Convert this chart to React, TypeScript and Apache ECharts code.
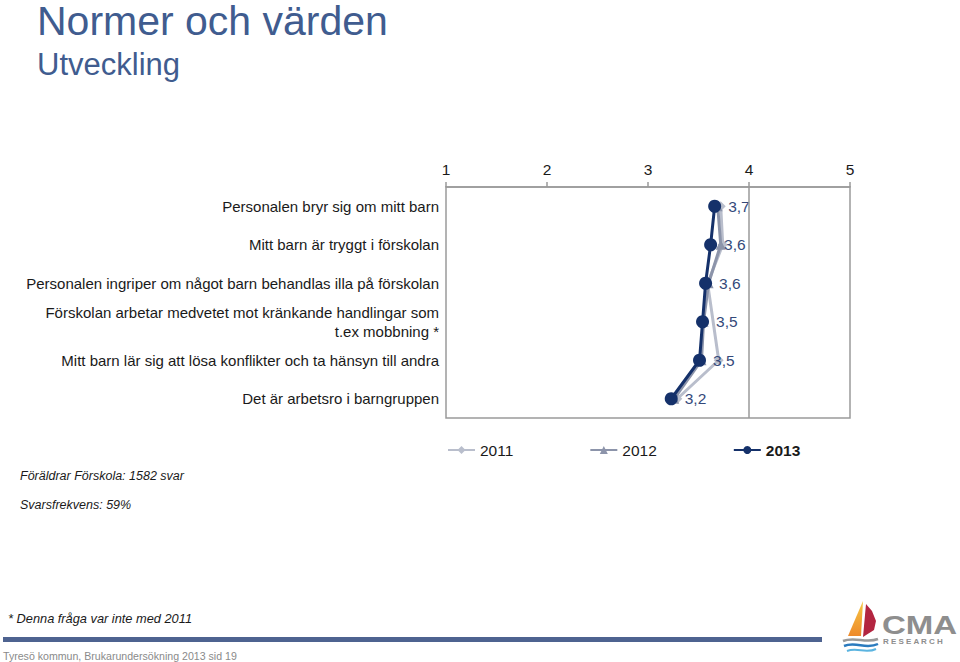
import React, { useEffect, useRef } from "react";
import * as echarts from "echarts";

const categories = [
  "Personalen bryr sig om mitt barn",
  "Mitt barn är tryggt i förskolan",
  "Personalen ingriper om något barn behandlas illa på förskolan",
  "Förskolan arbetar medvetet mot kränkande handlingar som\nt.ex mobbning *",
  "Mitt barn lär sig att lösa konflikter och ta hänsyn till andra",
  "Det är arbetsro i barngruppen",
];
const values2011: (number | null)[] = [3.72, 3.74, 3.59, null, 3.7, 3.29];
const values2012: (number | null)[] = [3.69, 3.72, 3.6, 3.55, 3.53, 3.26];
const values2013: (number | null)[] = [3.66, 3.62, 3.57, 3.54, 3.51, 3.23];
const seriesNames = ["2011", "2012", "2013"];
const xTicks = [1, 2, 3, 4, 5];

const FONT = "Liberation Sans, Arial, sans-serif";
const TITLE_COLOR = "#405C8F";

function toData(vals: (number | null)[]) {
  return categories
    .map((c, i) => (vals[i] == null ? null : [vals[i], c]))
    .filter((d) => d !== null);
}

export default function App() {
  const ref = useRef<HTMLDivElement>(null);
  useEffect(() => {
    if (!ref.current) return;
    const chart = echarts.init(ref.current, undefined, { renderer: "svg" });
    const option: any = {
      animation: false,
      textStyle: { fontFamily: FONT },
      grid: {
        left: 446,
        right: 110,
        top: 187,
        bottom: 244,
        show: true,
        borderColor: "#9a9a9a",
        borderWidth: 1.5,
        containLabel: false,
      },
      xAxis: {
        type: "value",
        position: "top",
        min: xTicks[0],
        max: xTicks[xTicks.length - 1],
        interval: 1,
        axisLine: { show: true, lineStyle: { color: "#9a9a9a", width: 1.5 } },
        axisTick: { show: true, length: 5, lineStyle: { color: "#9a9a9a", width: 1.5 } },
        splitLine: { show: false },
        axisLabel: { fontSize: 15.5, color: "#1a1a1a", margin: 10, fontFamily: FONT },
      },
      yAxis: {
        type: "category",
        inverse: true,
        data: categories,
        axisLine: { show: false },
        axisTick: { show: false },
        axisLabel: {
          fontSize: 15,
          color: "#1a1a1a",
          margin: 7,
          lineHeight: 19,
          fontFamily: FONT,
        },
      },
      legend: {
        left: 447,
        top: 442,
        padding: 0,
        itemWidth: 27,
        itemHeight: 10,
        itemGap: 76,
        textStyle: { fontSize: 15.5, color: "#1a1a1a", fontFamily: FONT },
        data: [
          { name: seriesNames[0] },
          { name: seriesNames[1] },
          { name: seriesNames[2], textStyle: { fontWeight: "bold", fontSize: 15.5 } },
        ],
      },
      series: [
        {
          name: seriesNames[0],
          type: "line",
          data: toData(values2011),
          symbol: "diamond",
          symbolSize: 10,
          lineStyle: { color: "#B9BECC", width: 3 },
          itemStyle: { color: "#B9BECC" },
          z: 2,
        },
        {
          name: seriesNames[1],
          type: "line",
          data: toData(values2012),
          symbol: "triangle",
          symbolSize: 10,
          lineStyle: { color: "#8C94AA", width: 3 },
          itemStyle: { color: "#8C94AA" },
          z: 3,
        },
        {
          name: seriesNames[2],
          type: "line",
          data: toData(values2013),
          symbol: "circle",
          symbolSize: 13,
          lineStyle: { color: "#15316A", width: 3 },
          itemStyle: { color: "#15316A" },
          z: 4,
          label: {
            show: true,
            position: "right",
            distance: 7,
            fontSize: 15.5,
            color: "#34497A",
            fontFamily: FONT,
            formatter: (p: any) => Number(p.value[0]).toFixed(1).replace(".", ","),
          },
          markLine: {
            silent: true,
            symbol: "none",
            label: { show: false },
            lineStyle: { color: "#9a9a9a", type: "solid", width: 1.5 },
            data: [{ xAxis: 4 }],
          },
        },
      ],
      graphic: [
        {
          type: "text",
          left: 37,
          top: 0,
          style: {
            text: "Normer och värden",
            fontSize: 41,
            lineHeight: 34,
            fill: TITLE_COLOR,
            fontFamily: FONT,
          },
        },
        {
          type: "text",
          left: 37,
          top: 49,
          style: { text: "Utveckling", fontSize: 31, fill: TITLE_COLOR, fontFamily: FONT },
        },
        {
          type: "text",
          left: 20,
          top: 469,
          style: {
            text: "Föräldrar Förskola: 1582 svar",
            fontSize: 12.5,
            fontStyle: "italic",
            fill: "#1a1a1a",
            fontFamily: FONT,
          },
        },
        {
          type: "text",
          left: 20,
          top: 498,
          style: {
            text: "Svarsfrekvens: 59%",
            fontSize: 12.5,
            fontStyle: "italic",
            fill: "#1a1a1a",
            fontFamily: FONT,
          },
        },
        {
          type: "text",
          left: 8,
          top: 612,
          style: {
            text: "* Denna fråga var inte med 2011",
            fontSize: 12.8,
            fontStyle: "italic",
            fill: "#1a1a1a",
            fontFamily: FONT,
          },
        },
        {
          type: "rect",
          shape: { x: 3, y: 637, width: 819, height: 5 },
          style: { fill: "#4E6390" },
        },
        {
          type: "text",
          left: 3,
          top: 650,
          style: {
            text: "Tyresö kommun, Brukarundersökning 2013 sid 19",
            fontSize: 10.6,
            fill: "#8a8a8a",
            fontFamily: FONT,
          },
        },
        // logo
        {
          type: "polygon",
          shape: { points: [[863, 601], [848, 636], [861, 636]] },
          style: {
            fill: new echarts.graphic.LinearGradient(0, 0, 0, 1, [
              { offset: 0, color: "#F6C744" },
              { offset: 1, color: "#EE8A2B" },
            ]),
          },
        },
        {
          type: "polygon",
          shape: { points: [[866, 604], [872, 611], [876, 621], [874, 630], [863, 637]] },
          style: { fill: "#B32540" },
        },
        {
          type: "bezierCurve",
          shape: { x1: 843, y1: 641, x2: 878, y2: 639, cpx1: 855, cpy1: 636, cpx2: 866, cpy2: 644 },
          style: { stroke: "#9A9A9A", lineWidth: 2.5, fill: "none" },
        },
        {
          type: "bezierCurve",
          shape: { x1: 844, y1: 646, x2: 878, y2: 644, cpx1: 856, cpy1: 641, cpx2: 866, cpy2: 650 },
          style: { stroke: "#2B7BBE", lineWidth: 2.5, fill: "none" },
        },
        {
          type: "bezierCurve",
          shape: { x1: 847, y1: 651, x2: 876, y2: 649, cpx1: 857, cpy1: 647, cpx2: 866, cpy2: 654 },
          style: { stroke: "#5BB4E0", lineWidth: 2, fill: "none" },
        },
        {
          type: "text",
          x: 882,
          y: 612,
          scaleX: 1.27,
          style: {
            text: "CMA",
            fontSize: 26,
            fontWeight: "bold",
            fill: "#8E8E8E",
            fontFamily: FONT,
          },
        },
        {
          type: "text",
          x: 883,
          y: 637,
          style: {
            text: "R E S E A R C H",
            fontSize: 8,
            fontWeight: "bold",
            fill: "#8E8E8E",
            fontFamily: FONT,
          },
        },
      ],
    };
    chart.setOption(option);
    return () => chart.dispose();
  }, []);
  return <div ref={ref} style={{ width: 960, height: 662, position: "absolute", left: 0, top: 0 }} />;
}
